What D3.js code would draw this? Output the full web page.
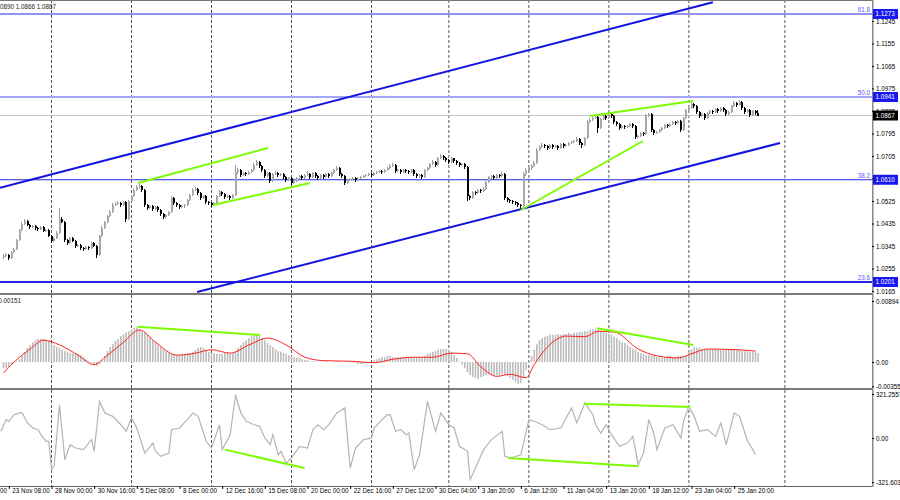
<!DOCTYPE html>
<html>
<head>
<meta charset="utf-8">
<title>EURUSD H4</title>
<script src="https://d3js.org/d3.v7.min.js"></script>
<style>
  body { margin: 0; background: #fff; }
  svg text { font-family: "Liberation Sans", Arial, sans-serif; font-size: 6.3px; }
</style>
</head>
<body>
<svg id="chart" width="900" height="500"></svg>
<script>
// ---- data ----
var firstOpen = 1.0301;
var closes = [
  1.0305,1.0309,1.0297,1.0321,1.0333,1.0369, 1.0409,1.0433,1.0445,1.0429,1.0421,1.0425,
  1.0417,1.0413,1.0421,1.0405,1.0409,1.0385, 1.0365,1.0377,1.0397,1.0453,1.0441,1.0369,
  1.0357,1.0377,1.0365,1.0345,1.0349,1.0337, 1.0333,1.0341,1.0337,1.0357,1.0345,1.0309,
  1.0385,1.0417,1.0441,1.0465,1.0481,1.0509, 1.0513,1.0517,1.0509,1.0521,1.0453,1.0525,
  1.0545,1.0569,1.0581,1.0585,1.0569,1.0509, 1.0497,1.0505,1.0493,1.0501,1.0489,1.0473,
  1.0461,1.0469,1.0481,1.0537,1.0517,1.0509, 1.0501,1.0505,1.0509,1.0529,1.0549,1.0569,
  1.0573,1.0557,1.0537,1.0545,1.0521,1.0517, 1.0509,1.0517,1.0545,1.0561,1.0553,1.0541,
  1.0545,1.0537,1.0549,1.0641,1.0649,1.0629, 1.0637,1.0633,1.0641,1.0649,1.0669,1.0681,
  1.0665,1.0649,1.0625,1.0637,1.0605,1.0633, 1.0637,1.0629,1.0633,1.0621,1.0609,1.0617,
  1.0597,1.0605,1.0617,1.0625,1.0617,1.0629, 1.0633,1.0621,1.0637,1.0625,1.0617,1.0629,
  1.0621,1.0633,1.0625,1.0637,1.0649,1.0657, 1.0633,1.0625,1.0597,1.0609,1.0613,1.0617,
  1.0609,1.0617,1.0621,1.0625,1.0629,1.0633, 1.0629,1.0637,1.0641,1.0645,1.0641,1.0649,
  1.0657,1.0665,1.0669,1.0645,1.0649,1.0641, 1.0649,1.0645,1.0641,1.0649,1.0633,1.0625,
  1.0629,1.0621,1.0649,1.0657,1.0673,1.0681, 1.0669,1.0697,1.0705,1.0697,1.0689,1.0681,
  1.0697,1.0685,1.0677,1.0669,1.0673,1.0661, 1.0545,1.0537,1.0561,1.0557,1.0569,1.0565,
  1.0573,1.0601,1.0621,1.0625,1.0617,1.0629, 1.0625,1.0633,1.0537,1.0529,1.0525,1.0521,
  1.0517,1.0509,1.0505,1.0633,1.0649,1.0657, 1.0665,1.0677,1.0729,1.0741,1.0749,1.0745,
  1.0737,1.0749,1.0741,1.0745,1.0737,1.0753, 1.0745,1.0749,1.0757,1.0761,1.0765,1.0773,
  1.0757,1.0749,1.0777,1.0841,1.0849,1.0857, 1.0861,1.0817,1.0853,1.0865,1.0857,1.0873,
  1.0865,1.0841,1.0833,1.0817,1.0825,1.0821, 1.0825,1.0833,1.0825,1.0781,1.0785,1.0797,
  1.0793,1.0865,1.0873,1.0809,1.0797,1.0801, 1.0809,1.0817,1.0829,1.0825,1.0833,1.0841,
  1.0837,1.0845,1.0809,1.0857,1.0889,1.0897, 1.0913,1.0905,1.0881,1.0865,1.0873,1.0857,
  1.0877,1.0885,1.0881,1.0893,1.0885,1.0897, 1.0889,1.0873,1.0881,1.0905,1.0917,1.0909,
  1.0921,1.0897,1.0881,1.0889,1.0869,1.0885, 1.0877,1.0867
];
var highs = [
  1.0312,1.0316,1.0313,1.0326,1.0339,1.0375, 1.0414,1.0441,1.0453,1.0449,1.0433,1.0431,
  1.0428,1.0421,1.0426,1.0424,1.0415,1.0412, 1.0389,1.0383,1.0405,1.0497,1.0461,1.0445,
  1.0373,1.0383,1.0381,1.0369,1.0355,1.0353, 1.0341,1.0347,1.0345,1.0363,1.0361,1.0349,
  1.0391,1.0425,1.0447,1.0471,1.0489,1.0517, 1.0521,1.0525,1.0523,1.0527,1.0525,1.0531,
  1.0551,1.0577,1.0589,1.0595,1.0591,1.0573, 1.0513,1.0511,1.0509,1.0507,1.0505,1.0493,
  1.0477,1.0475,1.0487,1.0545,1.0541,1.0523, 1.0513,1.0511,1.0515,1.0535,1.0555,1.0577,
  1.0583,1.0579,1.0561,1.0551,1.0549,1.0527, 1.0523,1.0523,1.0551,1.0569,1.0567,1.0557,
  1.0551,1.0549,1.0555,1.0669,1.0657,1.0655, 1.0643,1.0641,1.0647,1.0655,1.0677,1.0689,
  1.0687,1.0669,1.0653,1.0643,1.0641,1.0639, 1.0645,1.0643,1.0639,1.0637,1.0625,1.0623,
  1.0621,1.0611,1.0623,1.0631,1.0629,1.0635, 1.0645,1.0637,1.0643,1.0641,1.0629,1.0635,
  1.0633,1.0639,1.0637,1.0643,1.0655,1.0665, 1.0661,1.0637,1.0629,1.0615,1.0619,1.0623,
  1.0621,1.0623,1.0627,1.0631,1.0635,1.0639, 1.0637,1.0643,1.0647,1.0651,1.0649,1.0655,
  1.0663,1.0673,1.0677,1.0673,1.0655,1.0653, 1.0655,1.0653,1.0649,1.0655,1.0653,1.0637,
  1.0635,1.0633,1.0655,1.0663,1.0679,1.0689, 1.0685,1.0703,1.0713,1.0709,1.0701,1.0693,
  1.0703,1.0699,1.0689,1.0681,1.0679,1.0677, 1.0665,1.0551,1.0567,1.0567,1.0575,1.0575,
  1.0581,1.0607,1.0627,1.0631,1.0629,1.0635, 1.0633,1.0641,1.0637,1.0541,1.0533,1.0529,
  1.0525,1.0521,1.0513,1.0641,1.0657,1.0665, 1.0673,1.0685,1.0737,1.0749,1.0757,1.0755,
  1.0751,1.0755,1.0753,1.0751,1.0749,1.0759, 1.0757,1.0755,1.0763,1.0767,1.0771,1.0781,
  1.0777,1.0761,1.0783,1.0849,1.0857,1.0869, 1.0869,1.0865,1.0859,1.0871,1.0869,1.0877,
  1.0877,1.0869,1.0845,1.0837,1.0831,1.0829, 1.0831,1.0839,1.0837,1.0829,1.0791,1.0803,
  1.0801,1.0873,1.0877,1.0877,1.0813,1.0807, 1.0815,1.0823,1.0835,1.0833,1.0839,1.0847,
  1.0845,1.0851,1.0849,1.0863,1.0895,1.0905, 1.0925,1.0919,1.0909,1.0885,1.0879,1.0877,
  1.0883,1.0891,1.0889,1.0899,1.0897,1.0903, 1.0901,1.0893,1.0887,1.0911,1.0925,1.0923,
  1.0929,1.0925,1.0901,1.0895,1.0893,1.0891, 1.0889,1.0890
];
var lows = [
  1.0293,1.0300,1.0289,1.0293,1.0316,1.0329, 1.0365,1.0404,1.0428,1.0424,1.0415,1.0416,
  1.0411,1.0407,1.0409,1.0400,1.0401,1.0380, 1.0357,1.0361,1.0373,1.0393,1.0436,1.0361,
  1.0349,1.0353,1.0360,1.0339,1.0341,1.0331, 1.0327,1.0329,1.0331,1.0333,1.0340,1.0297,
  1.0305,1.0381,1.0413,1.0437,1.0461,1.0477, 1.0505,1.0509,1.0503,1.0505,1.0441,1.0449,
  1.0521,1.0541,1.0565,1.0577,1.0563,1.0501, 1.0491,1.0493,1.0487,1.0489,1.0483,1.0467,
  1.0453,1.0455,1.0465,1.0477,1.0511,1.0503, 1.0495,1.0497,1.0499,1.0505,1.0525,1.0545,
  1.0565,1.0551,1.0531,1.0533,1.0515,1.0511, 1.0503,1.0505,1.0513,1.0541,1.0547,1.0535,
  1.0537,1.0531,1.0533,1.0545,1.0635,1.0623, 1.0625,1.0627,1.0629,1.0637,1.0645,1.0665,
  1.0659,1.0643,1.0619,1.0621,1.0597,1.0601, 1.0629,1.0623,1.0625,1.0615,1.0601,1.0605,
  1.0589,1.0593,1.0601,1.0613,1.0611,1.0613, 1.0625,1.0615,1.0617,1.0619,1.0611,1.0613,
  1.0615,1.0617,1.0619,1.0621,1.0633,1.0645, 1.0627,1.0619,1.0589,1.0593,1.0605,1.0609,
  1.0603,1.0605,1.0613,1.0617,1.0621,1.0625, 1.0623,1.0625,1.0633,1.0637,1.0635,1.0637,
  1.0645,1.0653,1.0661,1.0637,1.0641,1.0635, 1.0637,1.0639,1.0635,1.0637,1.0627,1.0617,
  1.0619,1.0615,1.0617,1.0645,1.0653,1.0669, 1.0663,1.0665,1.0693,1.0691,1.0683,1.0675,
  1.0677,1.0679,1.0671,1.0663,1.0665,1.0655, 1.0525,1.0529,1.0533,1.0551,1.0553,1.0559,
  1.0561,1.0569,1.0597,1.0615,1.0611,1.0613, 1.0619,1.0621,1.0529,1.0523,1.0519,1.0515,
  1.0511,1.0501,1.0489,1.0501,1.0627,1.0643, 1.0651,1.0661,1.0673,1.0725,1.0737,1.0739,
  1.0731,1.0733,1.0735,1.0737,1.0731,1.0733, 1.0739,1.0741,1.0745,1.0753,1.0757,1.0761,
  1.0749,1.0737,1.0745,1.0773,1.0837,1.0845, 1.0853,1.0797,1.0813,1.0849,1.0851,1.0853,
  1.0859,1.0835,1.0827,1.0811,1.0813,1.0815, 1.0817,1.0821,1.0819,1.0775,1.0773,1.0781,
  1.0787,1.0789,1.0861,1.0803,1.0791,1.0793, 1.0797,1.0805,1.0813,1.0819,1.0821,1.0829,
  1.0831,1.0833,1.0803,1.0805,1.0853,1.0885, 1.0893,1.0899,1.0875,1.0857,1.0861,1.0851,
  1.0853,1.0873,1.0875,1.0877,1.0879,1.0881, 1.0883,1.0867,1.0869,1.0877,1.0901,1.0903,
  1.0905,1.0891,1.0875,1.0877,1.0863,1.0865, 1.0871,1.0866
];

// MACD main (histogram), one value per bar
var macdHist = [
  -0.0009,-0.0009,-0.0007,-0.0004,-0.0001,0.0001,0.0004,0.0009,0.0015,0.0021,
  0.0025,0.0029,0.0032,0.0034,0.0034,0.0034,0.0032,0.0031,0.0028,0.0025,
  0.0022,0.0021,0.0018,0.0016,0.0015,0.0013,0.0013,0.0012,0.0012,0.0010,
  0.0007,0.0004,0.0001,-0.0001,-0.0004,-0.0006,-0.0003,0.0003,0.0009,0.0016,
  0.0022,0.0026,0.0031,0.0034,0.0038,0.0041,0.0044,0.0045,0.0048,0.0050,
  0.0051,0.0048,0.0045,0.0043,0.0040,0.0037,0.0032,0.0029,0.0025,0.0022,
  0.0019,0.0016,0.0013,0.0012,0.0010,0.0010,0.0010,0.0012,0.0012,0.0013,
  0.0013,0.0015,0.0018,0.0021,0.0022,0.0021,0.0018,0.0015,0.0013,0.0013,
  0.0012,0.0012,0.0012,0.0013,0.0013,0.0012,0.0013,0.0015,0.0021,0.0025,
  0.0029,0.0032,0.0035,0.0038,0.0040,0.0040,0.0038,0.0035,0.0032,0.0028,
  0.0025,0.0022,0.0019,0.0016,0.0015,0.0013,0.0012,0.0010,0.0009,0.0007,
  0.0006,0.0006,0.0004,0.0003,0.0003,0.0001,0.0001,0.0001,0.0000,0.0000,
  0.0001,0.0001,0.0000,0.0000,0.0001,0.0001,0.0001,0.0000,0.0000,0.0000,
  -0.0001,-0.0001,-0.0001,-0.0003,-0.0003,-0.0003,-0.0001,-0.0001,0.0000,0.0003,
  0.0004,0.0006,0.0007,0.0007,0.0009,0.0009,0.0007,0.0007,0.0007,0.0006,
  0.0006,0.0007,0.0007,0.0006,0.0006,0.0007,0.0007,0.0007,0.0009,0.0012,
  0.0013,0.0015,0.0016,0.0018,0.0019,0.0019,0.0019,0.0018,0.0015,0.0010,
  0.0006,0.0001,-0.0004,-0.0009,-0.0015,-0.0019,-0.0022,-0.0023,-0.0025,-0.0022,
  -0.0021,-0.0019,-0.0018,-0.0018,-0.0019,-0.0019,-0.0019,-0.0018,-0.0019,-0.0021,
  -0.0023,-0.0026,-0.0029,-0.0032,-0.0031,-0.0022,-0.0012,-0.0001,0.0009,0.0018,
  0.0026,0.0032,0.0035,0.0037,0.0038,0.0040,0.0040,0.0040,0.0041,0.0040,
  0.0041,0.0041,0.0043,0.0041,0.0043,0.0043,0.0044,0.0044,0.0045,0.0045,
  0.0047,0.0048,0.0048,0.0047,0.0045,0.0044,0.0043,0.0041,0.0040,0.0037,
  0.0035,0.0032,0.0029,0.0028,0.0025,0.0022,0.0019,0.0018,0.0015,0.0013,
  0.0012,0.0010,0.0010,0.0009,0.0009,0.0007,0.0007,0.0007,0.0007,0.0009,
  0.0009,0.0007,0.0007,0.0009,0.0009,0.0007,0.0009,0.0015,0.0019,0.0022,
  0.0021,0.0021,0.0019,0.0019,0.0019,0.0018,0.0019,0.0019,0.0018,0.0018,
  0.0019,0.0018,0.0018,0.0019,0.0018,0.0018,0.0018,0.0016,0.0016,0.0016,
  0.0015,0.0015,0.0015,0.0013
];
// MACD signal line, sampled at these bars
var signalBars = [0,4,10,15,21,28,34,38,45,51,57,65,72,78,85,92,99,106,113,120,131,139,146,154,161,168,174,179,185,190,196,199,205,211,218,223,229,238,245,253,258,264,275,282];
var signalVals = [-0.0016,0,0.0019,0.0032,0.0025,0.0010,-0.0004,0.0007,0.0029,0.0047,0.0029,0.0010,0.0013,0.0018,0.0013,0.0025,0.0035,0.0025,0.0007,0.0002,0.0001,-0.0001,0.0004,0.0007,0.0007,0.0013,0.0012,-0.0007,-0.0021,-0.0018,-0.0023,-0.0004,0.0026,0.0038,0.0037,0.0045,0.0044,0.0019,0.0009,0.0006,0.0012,0.0019,0.0018,0.0016];

// CCI, sampled at these bars
var cciBars = [-1,1,2,4,6,7,9,11,13,14,16,17,18,19,21,23,25,27,30,33,34,36,38,41,44,46,48,50,53,56,57,59,62,63,66,70,71,73,76,78,81,82,85,87,89,91,94,96,98,100,101,103,104,106,108,111,114,116,118,120,122,125,128,130,132,135,138,139,142,144,145,147,149,151,152,154,156,159,162,164,167,169,171,174,175,177,180,183,187,188,190,194,197,199,202,205,209,211,213,215,218,221,222,224,226,228,231,234,236,238,240,242,244,245,248,251,254,255,257,259,261,264,267,269,271,274,276,279,281,282];
var cciVals = [49,134,122,170,183,183,110,73,61,24,-24,-24,-231,-207,243,-158,-49,-73,-85,-12,-97,268,183,158,97,49,146,73,-110,-37,-97,-134,-110,61,73,158,183,158,-24,-73,97,-85,24,316,183,122,97,85,0,-49,24,-122,-97,-183,-146,-61,-73,61,97,61,97,183,219,-219,-73,-12,0,73,134,170,170,49,61,24,36,-231,-122,268,49,183,97,73,-61,-97,-304,-219,-85,-12,49,-134,-146,-122,134,122,97,61,73,146,219,110,255,170,97,36,97,24,-61,-37,12,-195,-110,134,24,-85,73,97,0,122,231,158,49,61,12,110,-49,183,158,-24,-85,-122];

// time axis labels (one every 16 H4 bars) and week starts (Monday 00:00 bars)
var xLabels = ["18 Nov 16:00","23 Nov 08:00","28 Nov 00:00","30 Nov 16:00","5 Dec 08:00","8 Dec 00:00",
  "12 Dec 16:00","15 Dec 08:00","20 Dec 00:00","22 Dec 16:00","27 Dec 12:00","30 Dec 04:00","3 Jan 20:00",
  "6 Jan 12:00","11 Jan 04:00","13 Jan 20:00","18 Jan 12:00","23 Jan 04:00","25 Jan 20:00"];
var weekStartBars = [18, 48, 78, 108, 138, 167, 197, 227, 257, 293];

var priceTicks = [1.1245,1.1155,1.1065,1.0975,1.0885,1.0795,1.0705,1.0615,1.0525,1.0435,1.0345,1.0255,1.0165];
var fibPrices = [1.1273, 1.0941, 1.0610, 1.0201];
var fibNames = ["61.8", "50.0", "38.2", "23.6"];
var lastPrice = 1.0867;
var headerValues = ["1.0890", "1.0866", "1.0867"];
var macdHeader = "0.00151";
var macdTicks = [0.00894, 0, -0.00355];
var macdTickLabels = ["0.00894", "0.00", "-0.00355"];
var cciTicks = [321.2557, 0, -321.603];
var cciTickLabels = ["321.2557", "0.00", "-321.603"];

// trend lines as [bar, value] anchors
var channelUpper = [[-1.3, 1.0578], [266, 1.1320]];
var channelLower = [[72.6, 1.0161], [291.2, 1.0757]];
var priceGreen = [
  [[50.4, 1.0597], [99.2, 1.0737]],
  [[78.6, 1.0509], [114.9, 1.0597]],
  [[194, 1.0489], [239.8, 1.0765]],
  [[219.9, 1.0865], [258.5, 1.0925]]
];
var macdGreen = [
  [[50.2, 0.00518], [96.3, 0.00396]],
  [[222.5, 0.00494], [258.7, 0.00249]]
];
var cciGreen = [
  [[83, -85], [112.9, -219]],
  [[189.3, -146], [238.1, -207]],
  [[217.8, 250], [257.4, 226]]
];

// ---- layout ----
var svg = d3.select("#chart");
var axisX = 872;
var mainTop = 0, mainBot = 293, macdTop = 295, macdBot = 388, cciTop = 390, cciBot = 486;

var x = d3.scaleLinear().domain([0, 283]).range([3.5, 758.2]);
var yMain = d3.scaleLinear().domain([1.0157, 1.1329]).range([mainBot, mainTop]);
var yMacd = d3.scaleLinear().domain([-0.00381, 0.00982]).range([macdBot, macdTop]);
var yCci = d3.scaleLinear().domain([-350.4, 350.4]).range([cciBot, cciTop]);

var defs = svg.append("defs");
[["clipMain", mainTop, mainBot], ["clipMacd", macdTop, macdBot], ["clipCci", cciTop, cciBot]].forEach(function(c) {
  defs.append("clipPath").attr("id", c[0]).append("rect")
    .attr("x", 0).attr("y", c[1]).attr("width", axisX).attr("height", c[2] - c[1]);
});

// vertical week grid
svg.append("g").selectAll("line").data(weekStartBars).enter().append("line")
  .attr("x1", function(d) { return x(d); }).attr("x2", function(d) { return x(d); })
  .attr("y1", 0).attr("y2", cciBot)
  .attr("stroke", "#555").attr("stroke-width", 1).attr("stroke-dasharray", "3,2");

// ---- main panel ----
var gMain = svg.append("g").attr("clip-path", "url(#clipMain)");

// fibonacci levels
gMain.selectAll("line.fib").data(fibPrices).enter().append("line")
  .attr("class", "fib")
  .attr("x1", 0).attr("x2", axisX)
  .attr("y1", function(d) { return yMain(d); }).attr("y2", function(d) { return yMain(d); })
  .attr("stroke", function(d, i) { return i === 1 ? "#a4a4ff" : "#2525e6"; })
  .attr("stroke-width", function(d, i) { return (i === 1 || i === 3) ? 2 : 1.2; });
gMain.selectAll("text.fib").data(fibPrices).enter().append("text")
  .attr("class", "fib")
  .attr("x", axisX - 2).attr("y", function(d) { return yMain(d) - 2; })
  .attr("text-anchor", "end").attr("fill", "#5a5aff")
  .text(function(d, i) { return fibNames[i]; });

// current price line
gMain.append("line").attr("x1", 0).attr("x2", axisX)
  .attr("y1", yMain(lastPrice)).attr("y2", yMain(lastPrice))
  .attr("stroke", "#c4c4c4").attr("stroke-width", 1);

// candles
var bars = closes.map(function(c, i) {
  return { i: i, o: i ? closes[i - 1] : firstOpen, h: highs[i], l: lows[i], c: c };
});
var gCandles = gMain.append("g").attr("shape-rendering", "crispEdges");
gCandles.selectAll("line").data(bars).enter().append("line")
  .attr("x1", function(d) { return Math.round(x(d.i)) - 0.5; })
  .attr("x2", function(d) { return Math.round(x(d.i)) - 0.5; })
  .attr("y1", function(d) { return yMain(d.h); })
  .attr("y2", function(d) { return yMain(d.l); })
  .attr("stroke", function(d) { return d.c >= d.o ? "#9a9a9a" : "#000"; });
gCandles.selectAll("rect").data(bars).enter().append("rect")
  .attr("x", function(d) { return Math.round(x(d.i)) - 1; })
  .attr("width", 2)
  .attr("y", function(d) { return yMain(Math.max(d.o, d.c)); })
  .attr("height", function(d) { return Math.max(1, Math.abs(yMain(d.o) - yMain(d.c))); })
  .attr("fill", function(d) { return d.c >= d.o ? "#a8a8a8" : "#000"; });

var seg = function(yScale) {
  return d3.line().x(function(p) { return x(p[0]); }).y(function(p) { return yScale(p[1]); });
};
var lineMain = seg(yMain);
gMain.selectAll("path.channel").data([channelUpper, channelLower]).enter().append("path")
  .attr("class", "channel").attr("d", lineMain)
  .attr("stroke", "#1414e0").attr("stroke-width", 2).attr("fill", "none");
gMain.selectAll("path.green").data(priceGreen).enter().append("path")
  .attr("class", "green").attr("d", lineMain)
  .attr("stroke", "#7cfc00").attr("stroke-width", 2).attr("fill", "none");

// header values (the symbol part runs off the left edge, as in the terminal)
svg.append("text").attr("x", 56).attr("y", 8.5).attr("text-anchor", "end").attr("fill", "#222")
  .text(headerValues.join(" "));

// ---- MACD panel ----
var gMacd = svg.append("g").attr("clip-path", "url(#clipMacd)");
gMacd.selectAll("rect").data(macdHist).enter().append("rect")
  .attr("x", function(d, i) { return x(i) - 0.8; })
  .attr("width", 1.6)
  .attr("y", function(d) { return yMacd(Math.max(0, d)); })
  .attr("height", function(d) { return Math.abs(yMacd(d) - yMacd(0)); })
  .attr("fill", "#bdbdbd");
gMacd.append("path")
  .datum(signalBars.map(function(b, i) { return [b, signalVals[i]]; }))
  .attr("d", d3.line().x(function(p) { return x(p[0]); }).y(function(p) { return yMacd(p[1]); }).curve(d3.curveMonotoneX))
  .attr("stroke", "#ff2020").attr("stroke-width", 1).attr("fill", "none");
gMacd.selectAll("path.green").data(macdGreen).enter().append("path")
  .attr("class", "green").attr("d", seg(yMacd))
  .attr("stroke", "#7cfc00").attr("stroke-width", 2).attr("fill", "none");
svg.append("text").attr("x", 21).attr("y", macdTop + 8).attr("text-anchor", "end").attr("fill", "#222")
  .text(macdHeader);

// ---- CCI panel ----
var gCci = svg.append("g").attr("clip-path", "url(#clipCci)");
gCci.append("path")
  .datum(cciBars.map(function(b, i) { return [b, cciVals[i]]; }))
  .attr("d", seg(yCci))
  .attr("stroke", "#b4b4b4").attr("stroke-width", 1.2).attr("fill", "none");
gCci.selectAll("path.green").data(cciGreen).enter().append("path")
  .attr("class", "green").attr("d", seg(yCci))
  .attr("stroke", "#7cfc00").attr("stroke-width", 2).attr("fill", "none");

// ---- frames ----
svg.append("line").attr("x1", 0).attr("x2", axisX).attr("y1", 0.5).attr("y2", 0.5).attr("stroke", "#777");
[mainBot, macdBot].forEach(function(yy) {
  svg.append("rect").attr("x", 0).attr("y", yy).attr("width", axisX + 1).attr("height", 2).attr("fill", "#7a7a7a");
});
svg.append("line").attr("x1", 0).attr("x2", axisX).attr("y1", cciBot + 0.5).attr("y2", cciBot + 0.5).attr("stroke", "#666");
svg.append("rect").attr("x", axisX).attr("y", 0).attr("width", 1.5).attr("height", cciBot + 1).attr("fill", "#8a8a8a");

// ---- axes ----
function styleAxis(g) {
  g.select(".domain").remove();
  g.selectAll("line").attr("stroke", "#000");
  g.selectAll("text").attr("fill", "#000").style("font-size", "6.3px").style("font-family", "Liberation Sans, Arial, sans-serif");
}
svg.append("g").attr("transform", "translate(" + axisX + ",0)")
  .call(d3.axisRight(yMain).tickValues(priceTicks).tickFormat(d3.format(".4f")).tickSize(2).tickPadding(2))
  .call(styleAxis);
svg.append("g").attr("transform", "translate(" + axisX + ",0)")
  .call(d3.axisRight(yMacd).tickValues(macdTicks).tickFormat(function(d, i) { return macdTickLabels[i]; }).tickSize(2).tickPadding(2))
  .call(styleAxis);
svg.append("g").attr("transform", "translate(" + axisX + ",0)")
  .call(d3.axisRight(yCci).tickValues(cciTicks).tickFormat(function(d, i) { return cciTickLabels[i]; }).tickSize(2).tickPadding(2))
  .call(styleAxis);

var xTickBars = xLabels.map(function(d, i) { return -14 + 16 * i; });
var gx = svg.append("g").attr("transform", "translate(0," + cciBot + ")")
  .call(d3.axisBottom(x).tickValues(xTickBars).tickFormat(function(d, i) { return xLabels[i]; }).tickSize(3))
  .call(styleAxis);
gx.selectAll("text").attr("text-anchor", "start").attr("x", 3).attr("y", 3);

// price boxes on the axis
var boxes = fibPrices.map(function(p) { return { p: p, fill: "#1818f0" }; })
  .concat([{ p: lastPrice, fill: "#000" }]);
var gBox = svg.append("g");
gBox.selectAll("rect").data(boxes).enter().append("rect")
  .attr("x", axisX + 1).attr("width", 25)
  .attr("y", function(d) { return yMain(d.p) - 5; }).attr("height", 10)
  .attr("fill", function(d) { return d.fill; });
gBox.selectAll("text").data(boxes).enter().append("text")
  .attr("x", axisX + 3.5).attr("y", function(d) { return yMain(d.p) + 2.3; })
  .attr("fill", "#fff").text(function(d) { return d3.format(".4f")(d.p); });
</script>
</body>
</html>
